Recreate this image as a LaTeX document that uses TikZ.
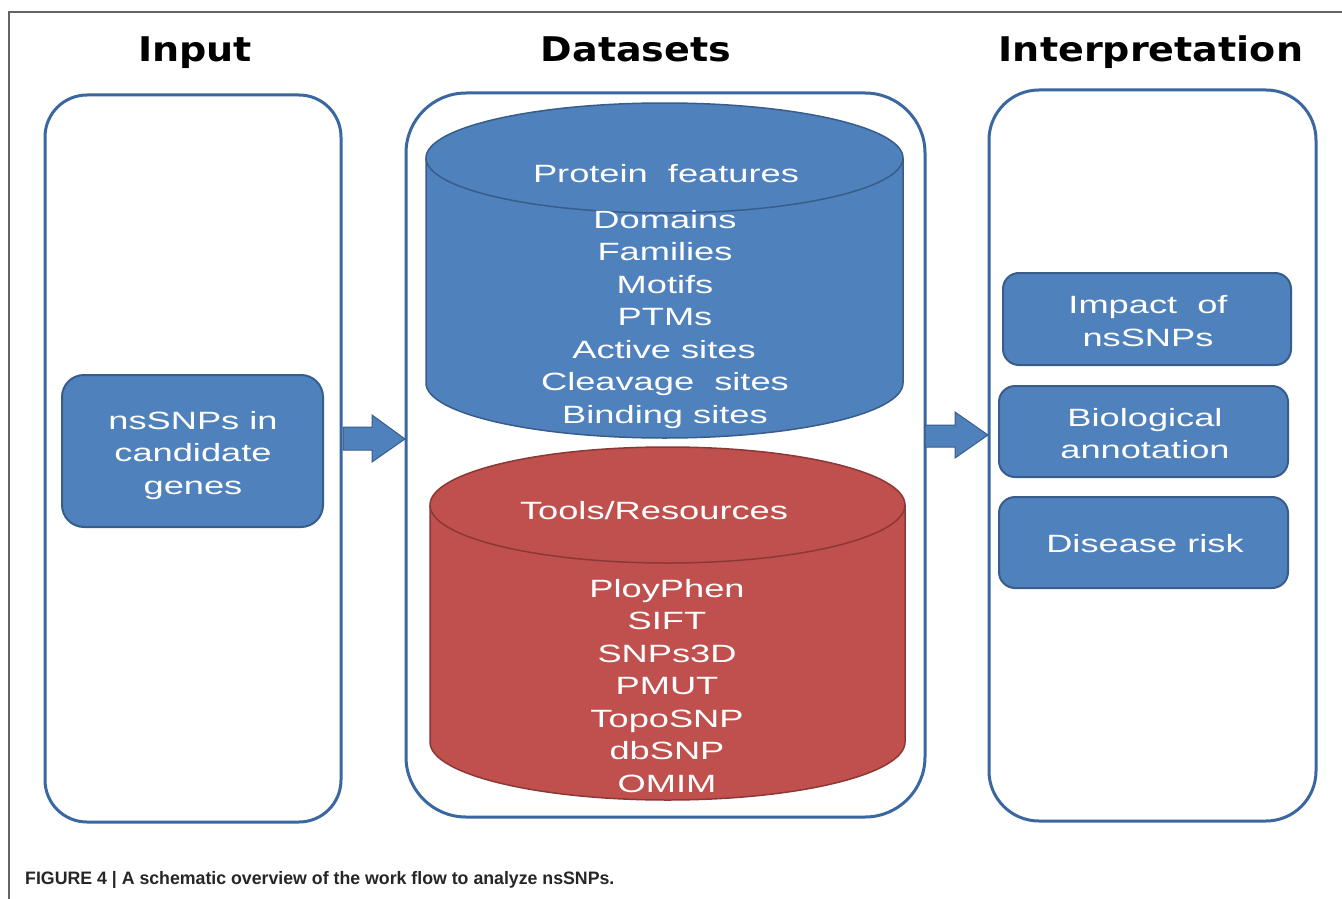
\documentclass[tikz,border=0pt]{standalone}
\usepackage{fontspec}
\setmainfont{Liberation Sans}
\newfontfamily\bodyfont[FakeStretch=1.45]{Liberation Sans}
\newfontfamily\titlefont[FakeStretch=1.12]{DejaVu Sans}
\newfontfamily\capfont[FakeStretch=0.985]{Liberation Sans}
\definecolor{framecol}{RGB}{58,103,160}
\definecolor{bluefill}{RGB}{79,129,189}
\definecolor{bluedark}{RGB}{56,93,138}
\definecolor{redfill}{RGB}{192,80,77}
\definecolor{reddark}{RGB}{140,56,54}
\definecolor{edgegray}{RGB}{100,100,100}
\tikzset{
  x=1pt, y=1pt,
  panel/.style={draw=framecol, line width=3pt, fill=white},
  bluebox/.style={draw=bluedark, line width=2pt, fill=bluefill},
  ttl/.style={font=\titlefont\bfseries\fontsize{34}{40}\selectfont, anchor=base, inner sep=0pt},
  bt/.style={font=\bodyfont\fontsize{25}{30}\selectfont, text=white, anchor=base, inner sep=0pt},
  blockarrow/.style={fill=bluefill, draw=bluedark, line width=1pt, line join=miter},
}
\begin{document}
\begin{tikzpicture}
\useasboundingbox (0,0) rectangle (1342,-899);
\fill[white] (0,0) rectangle (1342,-899);
% outer frame lines
\draw[edgegray, line width=1.2pt] (9,-899) -- (9,-12) -- (1342,-12);

% titles
\node[ttl] (tin) at (195,-62) {Input};
\node[ttl] (tds) at (636,-62) {Datasets};
\node[ttl] (tint) at (1151,-62) {Interpretation};

% panels
\draw[panel, rounded corners=42pt] (45,-95) rectangle (341,-822);
\draw[panel, rounded corners=60pt] (406,-93) rectangle (925,-817);
\draw[panel, rounded corners=50pt] (989,-90) rectangle (1316,-821);

% input box
\draw[bluebox, rounded corners=22pt] (62,-375) rectangle (323,-527);
\node[bt] (in1) at (193,-429) {nsSNPs in};
\node[bt] (in2) at (193,-461) {candidate};
\node[bt] (in3) at (193,-494) {genes};

% arrows
\draw[blockarrow] (343,-427) -- (372,-427) -- (372,-415) -- (405,-439) -- (372,-462) -- (372,-450) -- (343,-450) -- cycle;
\draw[blockarrow] (925,-425) -- (955,-425) -- (955,-412) -- (988,-435) -- (955,-458) -- (955,-447) -- (925,-447) -- cycle;

% blue cylinder
\fill[bluefill] (426,-158) -- (426,-383) arc[start angle=180, end angle=360, x radius=238.5, y radius=55] -- (903,-158) -- cycle;
\draw[bluedark, line width=1.5pt] (426,-158) -- (426,-383) arc[start angle=180, end angle=360, x radius=238.5, y radius=55] -- (903,-158);
\draw[bluedark, line width=1.5pt, fill=bluefill] (664.5,-158) ellipse[x radius=238.5, y radius=55];
\node[bt] (pf) at (666,-182) {Protein\ \ features};
\node[bt] (b1) at (665,-228) {Domains};
\node[bt] (b2) at (665,-260.5) {Families};
\node[bt] (b3) at (665,-293) {Motifs};
\node[bt] (b4) at (665,-325.5) {PTMs};
\node[bt] (b5) at (664,-358) {Active sites};
\node[bt] (b6) at (665,-390.5) {Cleavage\ \ sites};
\node[bt] (b7) at (665,-423) {Binding sites};

% red cylinder
\fill[redfill] (430,-505) -- (430,-742) arc[start angle=180, end angle=360, x radius=237.5, y radius=58] -- (905,-505) -- cycle;
\draw[reddark, line width=1.5pt] (430,-505) -- (430,-742) arc[start angle=180, end angle=360, x radius=237.5, y radius=58] -- (905,-505);
\draw[reddark, line width=1.5pt, fill=redfill] (667.5,-505) ellipse[x radius=237.5, y radius=58];
\node[bt] (tr) at (654,-519) {Tools/Resources};
\node[bt] (r1) at (667,-597) {PloyPhen};
\node[bt] (r2) at (667,-629.5) {SIFT};
\node[bt] (r3) at (667,-662) {SNPs3D};
\node[bt] (r4) at (667,-694.5) {PMUT};
\node[bt] (r5) at (667,-727) {TopoSNP};
\node[bt] (r6) at (667,-759.5) {dbSNP};
\node[bt] (r7) at (667,-792) {OMIM};

% interpretation boxes
\draw[bluebox, rounded corners=16pt] (1003,-273) rectangle (1291,-365);
\node[bt] (i1) at (1148,-313) {Impact\ \ of};
\node[bt] (i2) at (1148,-346) {nsSNPs};
\draw[bluebox, rounded corners=16pt] (999,-386) rectangle (1288,-477);
\node[bt] (i3) at (1145,-426) {Biological};
\node[bt] (i4) at (1145,-458) {annotation};
\draw[bluebox, rounded corners=16pt] (999,-497) rectangle (1288,-588);
\node[bt] (i5) at (1145,-552) {Disease risk};

% caption
\node[font=\capfont\bfseries\fontsize{18}{22}\selectfont, anchor=base west, inner sep=0pt, text=black!85] (cap) at (25,-884.5) {FIGURE 4 | A schematic overview of the work flow to analyze nsSNPs.};
\end{tikzpicture}
\end{document}
